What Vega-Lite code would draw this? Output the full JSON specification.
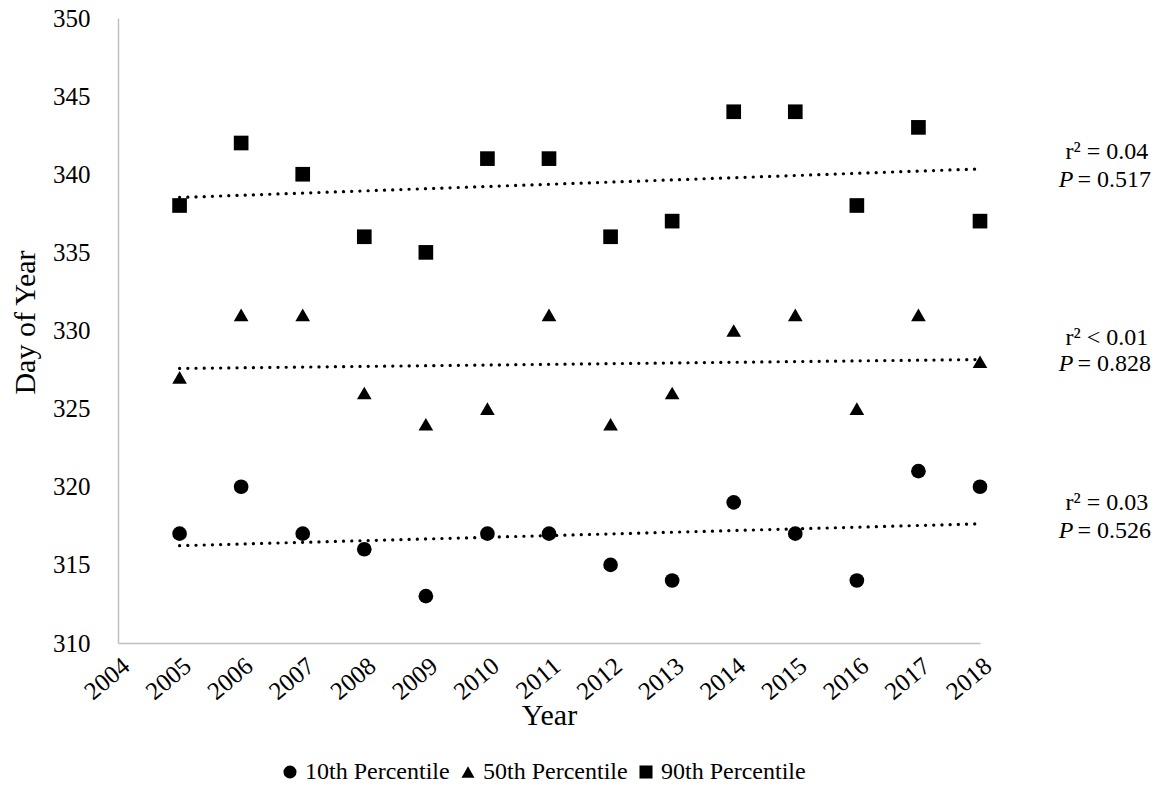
{
  "$schema": "https://vega.github.io/schema/vega-lite/v6.json",
  "width": 862,
  "height": 625,
  "autosize": "none",
  "padding": {"left": 118, "top": 18, "right": 187, "bottom": 152},
  "background": "white",
  "config": {
    "font": "Liberation Serif",
    "view": {"stroke": null},
    "axis": {
      "grid": false,
      "domainColor": "#c0c0c0",
      "domainWidth": 1.5,
      "labelFont": "Liberation Serif",
      "labelFontSize": 25,
      "labelColor": "#000",
      "titleFont": "Liberation Serif",
      "titleFontWeight": "normal",
      "titleColor": "#000"
    },
    "legend": {"labelFont": "Liberation Serif"},
    "text": {"font": "Liberation Serif"}
  },
  "datasets": {
    "pts": [
      {"year": 2005, "day": 317, "series": "10th Percentile"},
      {"year": 2006, "day": 320, "series": "10th Percentile"},
      {"year": 2007, "day": 317, "series": "10th Percentile"},
      {"year": 2008, "day": 316, "series": "10th Percentile"},
      {"year": 2009, "day": 313, "series": "10th Percentile"},
      {"year": 2010, "day": 317, "series": "10th Percentile"},
      {"year": 2011, "day": 317, "series": "10th Percentile"},
      {"year": 2012, "day": 315, "series": "10th Percentile"},
      {"year": 2013, "day": 314, "series": "10th Percentile"},
      {"year": 2014, "day": 319, "series": "10th Percentile"},
      {"year": 2015, "day": 317, "series": "10th Percentile"},
      {"year": 2016, "day": 314, "series": "10th Percentile"},
      {"year": 2017, "day": 321, "series": "10th Percentile"},
      {"year": 2018, "day": 320, "series": "10th Percentile"},
      {"year": 2005, "day": 327, "series": "50th Percentile"},
      {"year": 2006, "day": 331, "series": "50th Percentile"},
      {"year": 2007, "day": 331, "series": "50th Percentile"},
      {"year": 2008, "day": 326, "series": "50th Percentile"},
      {"year": 2009, "day": 324, "series": "50th Percentile"},
      {"year": 2010, "day": 325, "series": "50th Percentile"},
      {"year": 2011, "day": 331, "series": "50th Percentile"},
      {"year": 2012, "day": 324, "series": "50th Percentile"},
      {"year": 2013, "day": 326, "series": "50th Percentile"},
      {"year": 2014, "day": 330, "series": "50th Percentile"},
      {"year": 2015, "day": 331, "series": "50th Percentile"},
      {"year": 2016, "day": 325, "series": "50th Percentile"},
      {"year": 2017, "day": 331, "series": "50th Percentile"},
      {"year": 2018, "day": 328, "series": "50th Percentile"},
      {"year": 2005, "day": 338, "series": "90th Percentile"},
      {"year": 2006, "day": 342, "series": "90th Percentile"},
      {"year": 2007, "day": 340, "series": "90th Percentile"},
      {"year": 2008, "day": 336, "series": "90th Percentile"},
      {"year": 2009, "day": 335, "series": "90th Percentile"},
      {"year": 2010, "day": 341, "series": "90th Percentile"},
      {"year": 2011, "day": 341, "series": "90th Percentile"},
      {"year": 2012, "day": 336, "series": "90th Percentile"},
      {"year": 2013, "day": 337, "series": "90th Percentile"},
      {"year": 2014, "day": 344, "series": "90th Percentile"},
      {"year": 2015, "day": 344, "series": "90th Percentile"},
      {"year": 2016, "day": 338, "series": "90th Percentile"},
      {"year": 2017, "day": 343, "series": "90th Percentile"},
      {"year": 2018, "day": 337, "series": "90th Percentile"}
    ],
    "years": [
      {"year": 2004}, {"year": 2005}, {"year": 2006}, {"year": 2007}, {"year": 2008},
      {"year": 2009}, {"year": 2010}, {"year": 2011}, {"year": 2012}, {"year": 2013},
      {"year": 2014}, {"year": 2015}, {"year": 2016}, {"year": 2017}, {"year": 2018}
    ],
    "r2": [
      {"year": 2020.06, "day": 341.4, "label": "r² = 0.04"},
      {"year": 2020.06, "day": 329.52, "label": "r² < 0.01"},
      {"year": 2020.06, "day": 318.96, "label": "r² = 0.03"}
    ],
    "pv": [
      {"year": 2019.55, "day": 339.65, "pre": "P", "post": "= 0.517"},
      {"year": 2019.55, "day": 327.86, "pre": "P", "post": "= 0.828"},
      {"year": 2019.55, "day": 317.2, "pre": "P", "post": "= 0.526"}
    ]
  },
  "encoding": {
    "x": {
      "field": "year",
      "type": "quantitative",
      "scale": {"domain": [2004, 2018], "nice": false, "zero": false},
      "axis": {
        "title": "Year",
        "titleFontSize": 30,
        "titlePadding": -4,
        "values": [2004, 2005, 2006, 2007, 2008, 2009, 2010, 2011, 2012, 2013, 2014, 2015, 2016, 2017, 2018],
        "format": "d",
        "labelAngle": -40,
        "labelPadding": 10,
        "ticks": false,
        "labelOverlap": false
      }
    },
    "y": {
      "field": "day",
      "type": "quantitative",
      "scale": {"domain": [310, 350], "nice": false, "zero": false},
      "axis": {
        "title": "Day of Year",
        "titleFontSize": 30,
        "titlePadding": 12,
        "titleY": 304,
        "values": [310, 315, 320, 325, 330, 335, 340, 345, 350],
        "ticks": false,
        "labelPadding": 28
      }
    }
  },
  "layer": [
    {
      "data": {"name": "years"},
      "mark": {"type": "tick", "orient": "vertical", "color": "#c0c0c0", "thickness": 1.5, "size": 15, "clip": false},
      "encoding": {"y": {"datum": 310}}
    },
    {
      "data": {"name": "pts"},
      "transform": [{"regression": "day", "on": "year", "groupby": ["series"]}],
      "mark": {"type": "line", "color": "black", "strokeWidth": 3.2, "strokeDash": [0.1, 8.1], "strokeCap": "round"},
      "encoding": {"detail": {"field": "series"}}
    },
    {
      "data": {"name": "pts"},
      "mark": {"type": "point", "filled": true, "opacity": 1, "size": 215, "color": "black"},
      "encoding": {
        "shape": {
          "field": "series",
          "type": "nominal",
          "scale": {"domain": ["10th Percentile", "50th Percentile", "90th Percentile"], "range": ["circle", "triangle-up", "square"]},
          "legend": {
            "title": null,
            "orient": "none",
            "direction": "horizontal",
            "legendX": 160,
            "legendY": 742,
            "labelFont": "Liberation Serif",
            "labelFontSize": 24,
            "labelColor": "#000",
            "symbolSize": 170,
            "symbolFillColor": "black",
            "symbolStrokeColor": "black",
            "columnPadding": 6,
            "labelOffset": 3
          }
        }
      }
    },
    {
      "data": {"name": "r2"},
      "mark": {"type": "text", "fontSize": 24, "font": "Liberation Serif", "align": "center", "baseline": "middle", "color": "black", "clip": false},
      "encoding": {"text": {"field": "label"}}
    },
    {
      "data": {"name": "pv"},
      "mark": {"type": "text", "fontSize": 24, "font": "Liberation Serif", "fontStyle": "italic", "align": "right", "baseline": "middle", "dx": -2, "color": "black", "clip": false},
      "encoding": {"text": {"field": "pre"}}
    },
    {
      "data": {"name": "pv"},
      "mark": {"type": "text", "fontSize": 24, "font": "Liberation Serif", "align": "left", "baseline": "middle", "dx": 2, "color": "black", "clip": false},
      "encoding": {"text": {"field": "post"}}
    }
  ]
}
